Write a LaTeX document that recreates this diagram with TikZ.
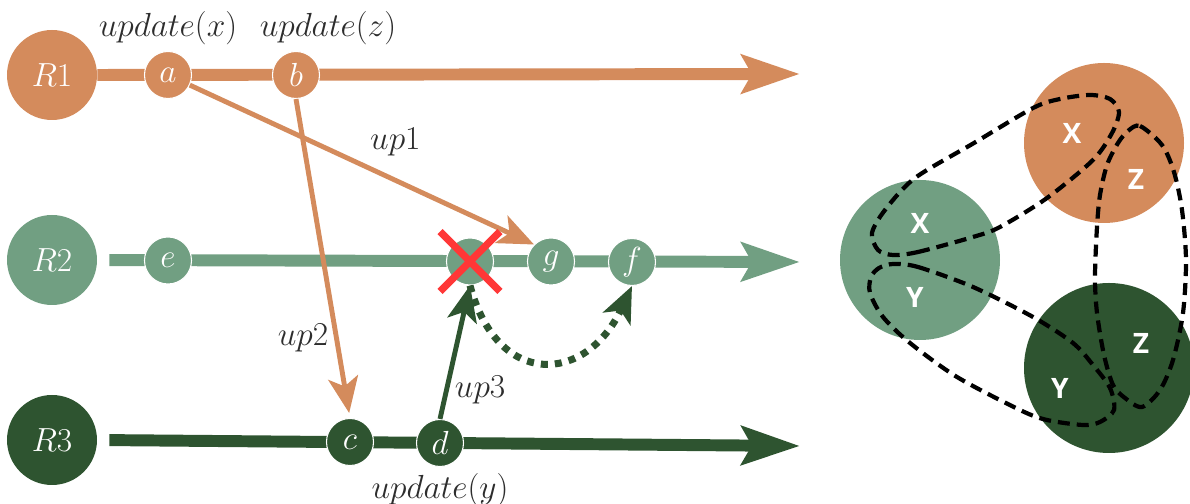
\RequirePackage{fix-cm}
\documentclass[tikz,border=0pt]{standalone}
\usepackage{fontspec}
\newfontfamily\keyfont{Open Sans}
\usetikzlibrary{positioning,arrows.meta,shapes.misc,backgrounds}

\definecolor{rone}{RGB}{212,139,92}
\definecolor{rtwo}{RGB}{113,159,130}
\definecolor{rthree}{RGB}{46,84,48}
\definecolor{crossred}{RGB}{255,55,55}
\definecolor{labelgray}{RGB}{45,45,45}

\tikzset{
  replica/.style={circle, fill=#1, minimum size=1.8cm, inner sep=0pt, text=white, font=\fontsize{19}{22}\selectfont},
  event/.style={circle, fill=#1, draw=white, line width=0.6pt, minimum size=0.94cm, inner sep=0pt, text=white, font=\fontsize{19}{22}\selectfont},
  timeline/.style={#1, line width=6.8pt, -{Stealth[length=1.16cm,width=0.76cm,inset=0.2cm]}},
  msg/.style={#1, line width=2.8pt, -{Stealth[length=0.72cm,width=0.6cm,inset=0.18cm]}},
  resend/.style={rthree, line width=4pt, dash pattern=on 4pt off 4pt, -{Stealth[length=0.72cm,width=0.6cm,inset=0.18cm]}},
  lbl/.style={text=labelgray, font=\fontsize{19}{22}\selectfont},
  shard/.style={circle, fill=#1, minimum size=3.2cm, inner sep=0pt},
  keylbl/.style={text=white, font=\keyfont\bfseries\fontsize{16}{18}\selectfont},
  grpline/.style={black, line width=2.4pt, dash pattern=on 0.24cm off 0.14cm},
}

\begin{document}
\begin{tikzpicture}
\useasboundingbox (0,0) rectangle (23.8,10.08);

% replicas and their events
\node[replica=rone] (R1) at (1.04,8.58) {$R1$};
\node[replica=rtwo] (R2) at (1.04,4.88) {$R2$};
\node[replica=rthree] (R3) at (1.04,1.28) {$R3$};

\node[event=rone] (a) at (3.36,8.58) {$a$};
\node[event=rone] (b) at (5.92,8.58) {$b$};
\node[event=rtwo] (e) at (3.36,4.87) {$e$};
\node[event=rtwo] (lost) at (9.4,4.85) {};
\node[event=rtwo] (g) at (11.02,4.85) {$g$};
\node[event=rtwo] (f) at (12.64,4.84) {$f$};
\node[event=rthree] (c) at (7.0,1.24) {$c$};
\node[event=rthree] (d) at (8.8,1.22) {$d$};

\coordinate (R1end) at (16,8.6);
\coordinate (R2end) at (16,4.84);
\coordinate (R3end) at (16,1.16);

\begin{scope}[on background layer]
\draw[timeline=rone] (R1.east) -- (R1end);
\draw[timeline=rtwo, shorten <=0.24cm] (R2.east) -- (R2end);
\draw[timeline=rthree, shorten <=0.24cm] (R3.east) -- (R3end);
\end{scope}

\node[lbl, above=0pt of a] (ux) {$update(x)$};
\node[lbl, above=0pt of b, xshift=0.64cm] (uz) {$update(z)$};
\node[lbl, below=0pt of d] (uy) {$update(y)$};

% messages
\draw[msg=rone] (a) -- (g.north west) node[lbl, midway, above right] (lup1) {$up1$};
\draw[msg=rone, shorten >=0.1cm] (b.south) -- (c.north) node[lbl, pos=0.75, left] (lup2) {$up2$};
\draw[msg=rthree] (d.north) -- (lost.south) node[lbl, pos=0.22, right] (lup3) {$up3$};
\draw[resend] (lost.south) to[out=-75,in=-115,looseness=1.7] (f.south);

\node[cross out, draw=crossred, line width=4.2pt, minimum size=1.05cm, inner sep=0pt] (lostx) at (lost) {};

% shards
\node[shard=rone] (sone) at (22.08,7.22) {};
\node[shard=rtwo] (stwo) at (18.4,4.88) {};
\node[shard=rthree, minimum size=3.4cm] (sthree) at (22.18,2.72) {};

\node[keylbl, xshift=-0.64cm, yshift=0.2cm] (sonex) at (sone) {X};
\node[keylbl, xshift=0.64cm, yshift=-0.72cm] (sonez) at (sone) {Z};
\node[keylbl, yshift=0.74cm] (stwox) at (stwo) {X};
\node[keylbl, xshift=-0.1cm, yshift=-0.74cm] (stwoy) at (stwo) {Y};
\node[keylbl, xshift=0.64cm, yshift=0.5cm] (sthreez) at (sthree) {Z};
\node[keylbl, xshift=-0.98cm, yshift=-0.4cm] (sthreey) at (sthree) {Y};

% key groups
\draw[grpline] plot[smooth cycle, tension=0.5] coordinates {
  (17.86,4.98) (18.36,5.04) (19.46,5.34) (20.0,5.54) (20.94,6.12) (21.86,6.88)
  (22.24,7.42) (22.38,7.84) (22.2,8.1) (21.8,8.18) (21.2,8.1) (20.66,7.92)
  (19.48,7.22) (18.3,6.52) (17.7,5.88) (17.44,5.42) (17.56,5.08)};
\draw[grpline] plot[smooth cycle, tension=0.5] coordinates {
  (17.86,4.8) (18.36,4.74) (19.46,4.34) (20.66,3.74) (21.46,3.22) (21.86,2.78)
  (22.2,2.32) (22.28,1.88) (22.0,1.64) (21.66,1.58) (20.94,1.68) (20.4,1.88)
  (19.14,2.54) (18.2,3.22) (17.66,3.74) (17.4,4.22) (17.42,4.54) (17.58,4.72)};
\draw[grpline] plot[smooth cycle, tension=0.5] coordinates {
  (22.56,7.46) (22.8,7.56) (23.24,7.18) (23.48,6.64) (23.64,5.88) (23.72,4.88)
  (23.66,3.82) (23.46,2.88) (23.2,2.28) (22.84,1.94) (22.5,2.12) (22.26,2.38)
  (22.08,2.98) (21.94,3.82) (21.9,4.54) (21.94,5.54) (22.0,6.18) (22.14,6.78)
  (22.36,7.22)};
\end{tikzpicture}
\end{document}
